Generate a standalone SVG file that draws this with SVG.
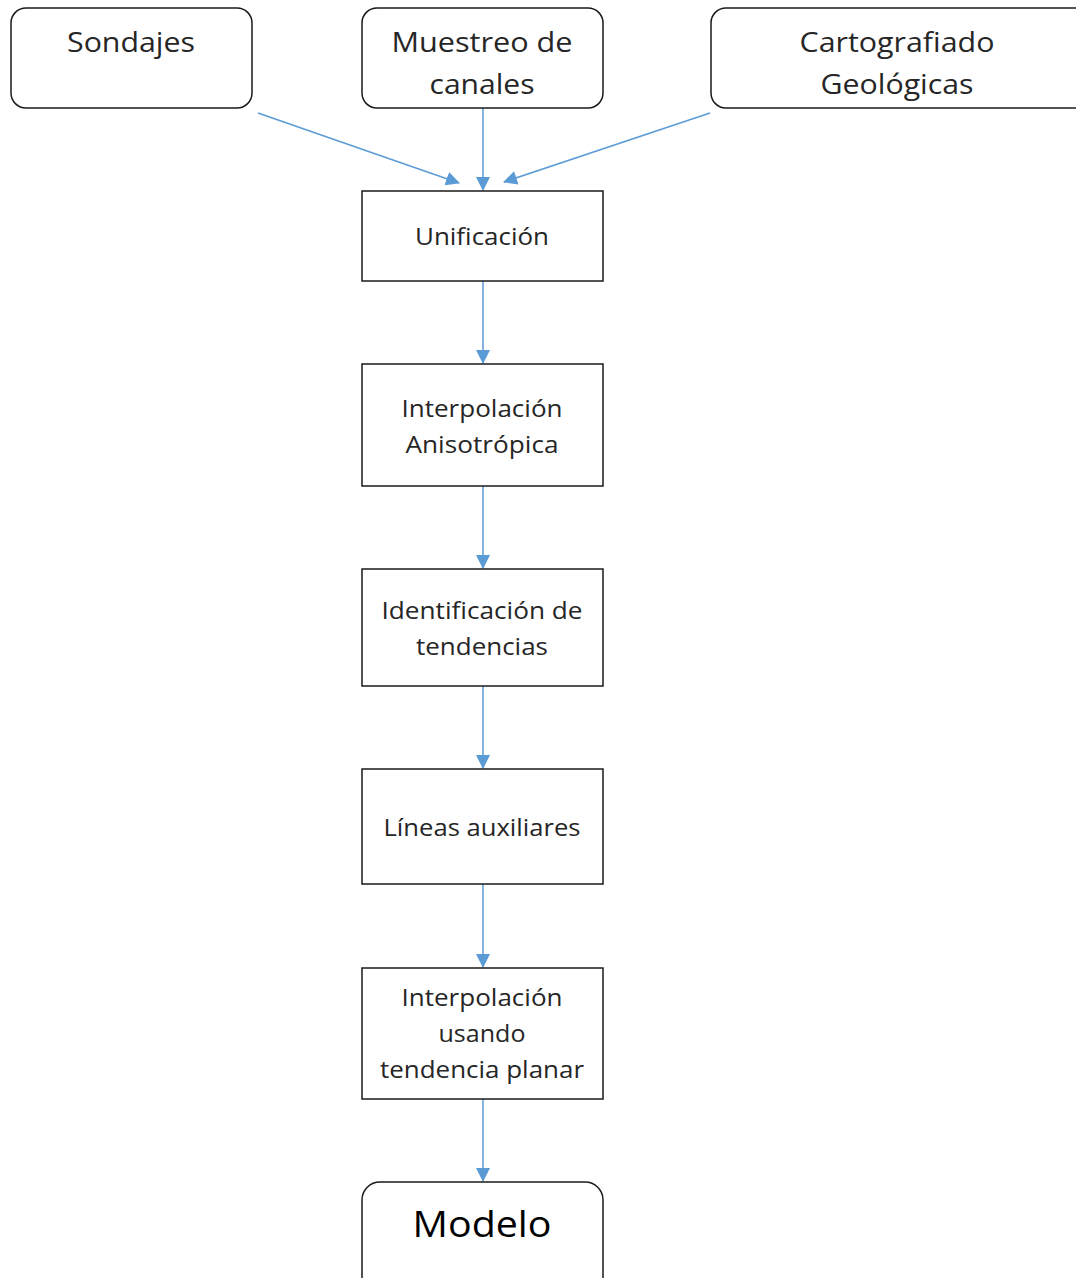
<svg xmlns="http://www.w3.org/2000/svg" width="1076" height="1278" viewBox="0 0 1076 1278">
<defs>
<marker id="ah" markerWidth="14" markerHeight="14" refX="13" refY="7" orient="auto" markerUnits="userSpaceOnUse" viewBox="0 0 14 14">
<path d="M0,0 L14,7 L0,14 Z" fill="#5B9BD5"/>
</marker>
<style>
.box{fill:#fff;stroke:#1a1a1a;stroke-width:1.5}
.t{font-family:"Open Sans","Liberation Sans",sans-serif;fill:#262626;text-anchor:middle}
.big{font-size:28px}
.mid{font-size:23px}
.huge{font-size:36px}
.c{stroke:#5B9BD5;stroke-width:1.5;fill:none;marker-end:url(#ah)}
</style>
</defs>
<rect width="1076" height="1278" fill="#fff"/>
<g id="connectors">
<line class="c" x1="258" y1="113" x2="459" y2="183"/>
<line class="c" x1="483" y1="108" x2="483" y2="190"/>
<line class="c" x1="710" y1="113" x2="504" y2="182"/>
<line class="c" x1="483" y1="281" x2="483" y2="363"/>
<line class="c" x1="483" y1="486" x2="483" y2="568"/>
<line class="c" x1="483" y1="686" x2="483" y2="768"/>
<line class="c" x1="483" y1="884" x2="483" y2="967"/>
<line class="c" x1="483" y1="1099" x2="483" y2="1181"/>
</g>
<g id="sondajes">
<rect class="box" x="11" y="8" width="241" height="100" rx="15"/>
<text class="t big" x="131" y="52" textLength="128" lengthAdjust="spacingAndGlyphs">Sondajes</text>
</g>
<g id="muestreo">
<rect class="box" x="362" y="8" width="241" height="100" rx="15"/>
<text class="t big" x="482" y="52" textLength="181" lengthAdjust="spacingAndGlyphs">Muestreo de</text>
<text class="t big" x="482" y="94" textLength="105" lengthAdjust="spacingAndGlyphs">canales</text>
</g>
<g id="cartografiado">
<rect class="box" x="711" y="8" width="380" height="100" rx="15"/>
<text class="t big" x="897" y="52" textLength="195" lengthAdjust="spacingAndGlyphs">Cartografiado</text>
<text class="t big" x="897" y="94" textLength="153" lengthAdjust="spacingAndGlyphs">Geológicas</text>
</g>
<g id="unificacion">
<rect class="box" x="362" y="191" width="241" height="90"/>
<text class="t mid" x="482" y="245" textLength="134" lengthAdjust="spacingAndGlyphs">Unificación</text>
</g>
<g id="anisotropica">
<rect class="box" x="362" y="364" width="241" height="122"/>
<text class="t mid" x="482" y="417" textLength="161" lengthAdjust="spacingAndGlyphs">Interpolación</text>
<text class="t mid" x="482" y="453" textLength="153" lengthAdjust="spacingAndGlyphs">Anisotrópica</text>
</g>
<g id="tendencias">
<rect class="box" x="362" y="569" width="241" height="117"/>
<text class="t mid" x="482" y="619" textLength="201" lengthAdjust="spacingAndGlyphs">Identificación de</text>
<text class="t mid" x="482" y="655" textLength="132" lengthAdjust="spacingAndGlyphs">tendencias</text>
</g>
<g id="lineas">
<rect class="box" x="362" y="769" width="241" height="115"/>
<text class="t mid" x="482" y="836" textLength="197" lengthAdjust="spacingAndGlyphs">Líneas auxiliares</text>
</g>
<g id="planar">
<rect class="box" x="362" y="968" width="241" height="131"/>
<text class="t mid" x="482" y="1006" textLength="161" lengthAdjust="spacingAndGlyphs">Interpolación</text>
<text class="t mid" x="482" y="1042" textLength="87" lengthAdjust="spacingAndGlyphs">usando</text>
<text class="t mid" x="482" y="1078" textLength="204" lengthAdjust="spacingAndGlyphs">tendencia planar</text>
</g>
<g id="modelo">
<rect class="box" x="362" y="1182" width="241" height="120" rx="18"/>
<text class="t huge" x="482" y="1237" textLength="139" lengthAdjust="spacingAndGlyphs" style="fill:#000">Modelo</text>
</g>
</svg>
